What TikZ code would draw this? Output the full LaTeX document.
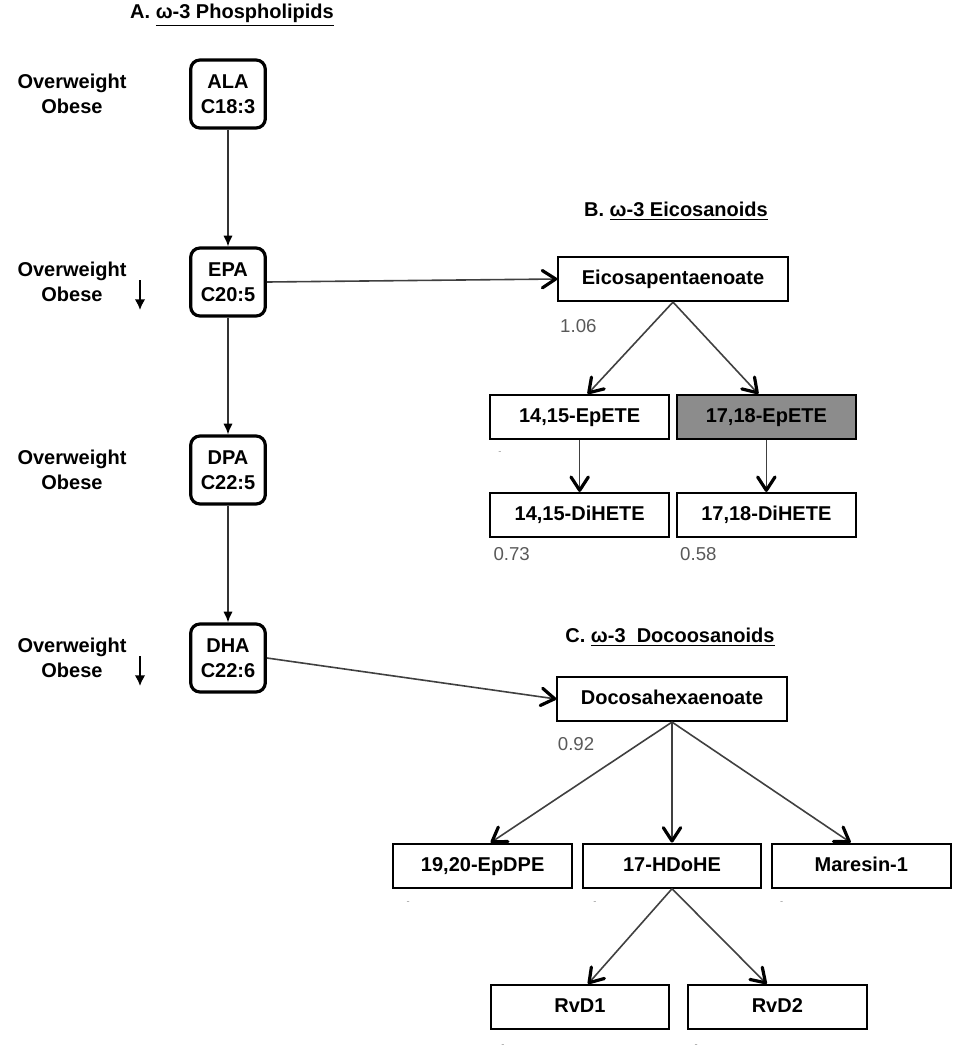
\documentclass[tikz,border=0pt]{standalone}
\usepackage{fontspec}
\setmainfont{Liberation Sans}
\usetikzlibrary{arrows.meta,positioning}
\tikzstyle{fa}=[draw,rounded corners=7pt,line width=2.4pt,minimum width=56pt,
minimum height=51pt,inner sep=1pt,align=center,font=\fontsize{15}{19}\selectfont\bfseries]
\tikzstyle{met}=[draw,rectangle,line width=1.6pt,minimum width=134pt,minimum height=33pt,
inner sep=1pt,text height=11pt,text depth=3pt,font=\fontsize{15}{18}\selectfont\bfseries]
\tikzstyle{met2}=[met,fill=black!45]
\tikzstyle{big}=[met,minimum width=172pt]
\tikzstyle{lbl}=[align=center,font=\fontsize{15}{19}\selectfont\bfseries]
\tikzstyle{ttl}=[font=\fontsize{15}{18}\selectfont\bfseries]
\tikzstyle{val}=[anchor=west,inner sep=0pt,text=black!65,font=\fontsize{14}{16}\selectfont]
\tikzstyle{mk}=[inner sep=0pt,text=black!40,font=\fontsize{7}{7}\selectfont]
\tikzstyle{conv}=[line width=1.3pt,black!80,-{Latex[length=8pt,width=7pt,color=black]}]
\tikzstyle{flow}=[line width=1.2pt,black!75,-{Straight Barb[length=10pt,width=13pt,line width=2.4pt,round,color=black]}]
\tikzstyle{dn}=[line width=1.5pt,-{Latex[length=8pt,width=8pt]}]

\begin{document}
\begin{tikzpicture}[x=0.75pt,y=-0.75pt,node distance=141pt,on grid]
  \useasboundingbox (0,0) rectangle (968,1050);

  % A. phospholipids
  \node[ttl] (ta) at (232,15) {A.\ \underline{ω-3 Phospholipids}};
  \node[fa] (ala) at (228,94) {ALA\\C18:3};
  \node[fa, below=of ala] (epa) {EPA\\C20:5};
  \node[fa, below=of epa] (dpa) {DPA\\C22:5};
  \node[fa, below=of dpa] (dha) {DHA\\C22:6};
  \node[lbl, left=117pt of ala] (ow1) {Overweight\\Obese};
  \node[lbl, left=117pt of epa] (ow2) {Overweight\\Obese};
  \node[lbl, left=117pt of dpa] (ow3) {Overweight\\Obese};
  \node[lbl, left=117pt of dha] (ow4) {Overweight\\Obese};
  \coordinate[left=66pt of epa] (epad);
  \coordinate[left=66pt of dha] (dhad);

  \draw[conv] (ala) -- (epa);
  \draw[conv] (epa) -- (dpa);
  \draw[conv] (dpa) -- (dha);
  \draw[dn] ([yshift=1.5pt]epad) -- ([yshift=-21pt]epad);
  \draw[dn] ([yshift=1.5pt]dhad) -- ([yshift=-21pt]dhad);

  % B. eicosanoids
  \node[ttl] (tb) at (676,211) {B.\ \underline{ω-3 Eicosanoids}};
  \node[big] (epae) at (673,279) {Eicosapentaenoate};
  \node[met, below left=103.5pt and 70pt of epae] (ep1) {14,15-EpETE};
  \node[met2, below right=103.5pt and 70pt of epae] (ep2) {17,18-EpETE};
  \node[met, below=73.5pt of ep1] (dh1) {14,15-DiHETE};
  \node[met, below=73.5pt of ep2] (dh2) {17,18-DiHETE};
  \node[val] (v1) at ([xshift=2pt,yshift=-18pt]epae.south west) {1.06};
  \node[val] (v2) at ([xshift=3pt,yshift=-12pt]dh1.south west) {0.73};
  \node[val] (v3) at ([xshift=3pt,yshift=-12pt]dh2.south west) {0.58};
  \node[mk] (m1) at ([xshift=8pt,yshift=-10pt]ep1.south west) {-};

  \draw[flow] (epa.east) -- (epae.west);
  \draw[flow] (epae.south) -- ([xshift=6pt]ep1.north);
  \draw[flow] (epae.south) -- ([xshift=-6pt]ep2.north);
  \draw[flow] (ep1) -- (dh1);
  \draw[flow] (ep2) -- (dh2);

  % C. docosanoids
  \node[ttl] (tc) at (670,637) {C.\ \underline{ω-3\ \ Docoosanoids}};
  \node[big] (dhae) at (672,699) {Docosahexaenoate};
  \node[met, below=125pt of dhae] (hdohe) {17-HDoHE};
  \node[met, left=142pt of hdohe] (epdpe) {19,20-EpDPE};
  \node[met, right=142pt of hdohe] (mar) {Maresin-1};
  \node[met, below left=106pt and 69pt of hdohe] (rvd1) {RvD1};
  \node[met, below right=106pt and 79pt of hdohe] (rvd2) {RvD2};
  \node[val] (v4) at ([xshift=1pt,yshift=-16.5pt]dhae.south west) {0.92};
  \node[mk] (m2) at ([xshift=12pt,yshift=-11pt]epdpe.south west) {-};
  \node[mk] (m3) at ([xshift=10pt,yshift=-11pt]hdohe.south west) {-};
  \node[mk] (m4) at ([xshift=8pt,yshift=-11pt]mar.south west) {-};
  \node[mk] (m5) at ([xshift=10pt,yshift=-12pt]rvd1.south west) {-};
  \node[mk] (m6) at ([xshift=7pt,yshift=-12pt]rvd2.south west) {-};

  \draw[flow] (dha.east) -- (dhae.west);
  \draw[flow] (dhae.south) -- ([xshift=6pt]epdpe.north);
  \draw[flow] (dhae.south) -- (hdohe.north);
  \draw[flow] (dhae.south) -- ([xshift=-8pt]mar.north);
  \draw[flow] (hdohe.south) -- ([xshift=6pt]rvd1.north);
  \draw[flow] (hdohe.south) -- ([xshift=-8pt]rvd2.north);
\end{tikzpicture}
\end{document}
